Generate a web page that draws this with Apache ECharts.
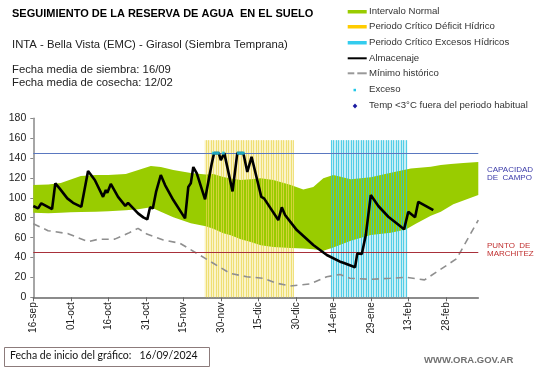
<!DOCTYPE html>
<html><head><meta charset="utf-8">
<script src="https://cdn.jsdelivr.net/npm/echarts@6/dist/echarts.min.js"></script>
<style>html,body{margin:0;padding:0;background:#fff}#c{width:541px;height:368px}</style>
</head><body><div id="c"></div>
<script>
// x values are days since 16-sep-2024
const tickLabels = ['16-sep','01-oct','16-oct','31-oct','15-nov','30-nov','15-dic','30-dic','14-ene','29-ene','13-feb','28-feb'];
const tickDays = [0,15,30,45,60,75,90,105,120,135,150,165];
const xMaxDay = 178;

const bandUpper = [[0,113],[6,113.5],[11,115],[15,118.5],[19,122],[25,123],[30,123],[37,124],[42,128],[47,132],[51,131],[56,128],[63,125],[69,123.6],[72,124],[76,121],[79,119.5],[83,118],[87,118.6],[91,119.6],[96,118],[103,113],[108,108.5],[112,111],[116,119.6],[120,122.9],[127,118.6],[135,120.6],[143,125.2],[151,129.6],[159,131.3],[163,133],[167,134],[172,135],[178,136]];
const bandLower = [[0,85],[6,84.4],[11,85],[15,85.4],[19,85.7],[25,86],[30,86.5],[37,87.5],[42,88.5],[47,90.5],[51,86],[56,80.5],[63,74.4],[69,71.5],[72,69],[76,64.5],[79,62.5],[83,58.3],[87,55.5],[91,52.3],[96,50.5],[103,49.5],[108,49],[112,48.2],[116,46.8],[120,50],[127,56.9],[135,62.6],[143,65],[149,68.3],[153,74],[159,82],[163,86],[168,93.5],[178,102.8]];

const almacenaje = [[0,91.8],[1.9,89.4],[3.2,94.5],[7.5,88.7],[8.8,114.6],[10.5,109.5],[13.6,99.5],[15.9,95],[19.2,91],[21.9,127],[24.6,118],[27.9,101],[29,107.8],[29.6,105],[31,114],[33.9,101],[36.8,92],[37.9,95],[41.9,84.4],[44,80.4],[45.6,78.4],[46.7,90.5],[47.8,89.4],[49.1,106],[51,123],[52.7,112.9],[56,97.8],[60.7,79.4],[62,111],[63,114.6],[64,131],[65.4,124.6],[68.7,98.5],[71.4,134.7],[72.3,145],[74.2,145],[75,138],[76.4,145],[79.7,106.5],[81.6,145],[84,145],[85.6,126],[87.3,141.3],[91.2,101],[92.3,99.5],[93.1,100.5],[98,77.7],[99.4,90.5],[100.7,82.7],[105.4,67.6],[112,52.6],[117.4,42.5],[122.7,35.8],[124,34.8],[128.7,30.2],[129.6,44.2],[131.4,43.5],[133,62.6],[133.8,63.6],[135,102.8],[138,91.8],[142,81],[146.7,71.7],[148.3,68.3],[150,86],[152.7,80.4],[154,96],[160,87.7]];

const minimoHistorico = [[0,74],[5.9,67],[13.9,64],[21.9,56],[25.9,58.3],[32.6,58.5],[37.9,64.3],[41.9,69.3],[45.4,63.6],[52,57.6],[58.7,54.3],[65.4,44.2],[72,34.2],[78.7,24.1],[85.4,20.7],[92,19.1],[97.4,14.1],[102.7,11.4],[110.7,13.4],[117.4,20.7],[122.7,23],[126.7,19.1],[134.7,18.1],[142.7,19.1],[149.3,20.1],[156.5,17.5],[169.3,38.7],[178,77.7]];

const excesoDays = [72,73,74,76,82,83,84];
const excesoValue = 145;
const deficitPeriod = [68.5,104];
const excessPeriod = [119,149.6];
const periodTop = 158;
const capacidadCampo = 145;
const puntoMarchitez = 45;

const FONT = "'Liberation Sans', Arial, sans-serif";

function periodBg(period, fill){
  return function(params, api){
    const a = api.coord([period[0], 0]), b = api.coord([period[1], periodTop]);
    return {type:'rect', shape:{x:a[0], y:b[1], width:b[0]-a[0], height:a[1]-b[1]}, style:{fill:fill}};
  };
}
function periodLines(period, stroke){
  return function(params, api){
    const children = [];
    for (let d = Math.ceil(period[0]); d <= period[1]; d++){
      const a = api.coord([d, 0]), b = api.coord([d, periodTop]);
      const x = Math.round(a[0]) + 0.5;
      children.push({type:'line', shape:{x1:x, y1:a[1], x2:x, y2:b[1]}, style:{stroke:stroke, lineWidth:1}});
    }
    return {type:'group', children:children};
  };
}

const chart = echarts.init(document.getElementById('c'), null, {renderer:'canvas'});
chart.setOption({
  animation:false,
  backgroundColor:'#fff',
  grid:{left:33.3, right:62.7, top:118.3, bottom:70.7, containLabel:false, outerBoundsMode:'none'},
  xAxis:{
    type:'value', min:0, max:xMaxDay,
    splitLine:{show:false},
    axisLine:{lineStyle:{color:'#666', width:1.5}},
    axisTick:{customValues:tickDays, length:4, lineStyle:{color:'#666'}},
    axisLabel:{customValues:tickDays, rotate:90, margin:5, fontSize:10, color:'#222', fontFamily:FONT,
      formatter:function(v){const i = tickDays.indexOf(v); return i>=0 ? tickLabels[i] : '';}}
  },
  yAxis:{
    type:'value', min:0, max:180, interval:20,
    name:'Milímetros', nameLocation:'middle', nameRotate:90, nameGap:25,
    nameTextStyle:{fontSize:7, color:'#222', fontFamily:FONT},
    splitLine:{show:false},
    axisLine:{show:true, lineStyle:{color:'#888', width:1.5}},
    axisTick:{show:true, length:3, lineStyle:{color:'#888'}},
    axisLabel:{fontSize:10.5, color:'#222', margin:7, fontFamily:FONT}
  },
  series:[
    {type:'custom', z:0, silent:true, data:[[0,0]], renderItem:periodBg(deficitPeriod,'#faf3c6')},
    {type:'custom', z:0, silent:true, data:[[0,0]], renderItem:periodBg(excessPeriod,'#c9eef5')},
    {type:'custom', z:1, silent:true, data:[[0,0]], renderItem:function(params, api){
      const pts = bandUpper.map(p=>api.coord(p)).concat(bandLower.slice().reverse().map(p=>api.coord(p)));
      return {type:'polygon', shape:{points:pts}, style:{fill:'#99cc00'}};
    }},
    {type:'custom', z:2, silent:true, data:[[0,0]], renderItem:periodLines(deficitPeriod,'rgba(234,214,80,0.7)')},
    {type:'custom', z:2, silent:true, data:[[0,0]], renderItem:periodLines(excessPeriod,'rgba(40,195,225,0.75)')},
    {type:'line', z:3, data:[], markLine:{silent:true, symbol:'none', label:{show:false},
      data:[{yAxis:capacidadCampo, lineStyle:{color:'#5a78c0', width:1, type:'solid'}},
            {yAxis:puntoMarchitez, lineStyle:{color:'#a8303a', width:1, type:'solid'}}]}},
    {type:'line', z:4, name:'Mínimo histórico', data:minimoHistorico, showSymbol:false,
      lineStyle:{color:'#8f8f8f', width:1.6, type:[7,5]}},
    {type:'line', z:5, name:'Almacenaje', data:almacenaje, showSymbol:false,
      lineStyle:{color:'#000', width:2.6}},
    {type:'scatter', z:6, name:'Exceso', data:excesoDays.map(d=>[d, excesoValue]), symbol:'rect', symbolSize:[3,3],
      itemStyle:{color:'#22c8e8'}}
  ],
  graphic:[
    {type:'text', left:12, top:8.5, style:{text:'SEGUIMIENTO DE LA RESERVA DE AGUA  EN EL SUELO', font:"bold 11px "+FONT, fill:'#000'}},
    {type:'text', left:12, top:39, style:{text:'INTA - Bella Vista (EMC) - Girasol (Siembra Temprana)', font:"11.3px "+FONT, fill:'#222'}},
    {type:'text', left:12, top:64.5, style:{text:'Fecha media de siembra: 16/09', font:"11.3px "+FONT, fill:'#222'}},
    {type:'text', left:12, top:77, style:{text:'Fecha media de cosecha: 12/02', font:"11.3px "+FONT, fill:'#222'}},
    // legend
    {type:'rect', shape:{x:347.7, y:10, width:19, height:3.5}, style:{fill:'#99cc00'}},
    {type:'rect', shape:{x:347.7, y:25, width:19, height:3.5}, style:{fill:'#ffcc00'}},
    {type:'rect', shape:{x:347.7, y:41, width:19, height:3.5}, style:{fill:'#33ccee'}},
    {type:'line', shape:{x1:347.7, y1:58.3, x2:366.7, y2:58.3}, style:{stroke:'#000', lineWidth:2}},
    {type:'line', shape:{x1:347.7, y1:73.3, x2:354.3, y2:73.3}, style:{stroke:'#999', lineWidth:2}},
    {type:'line', shape:{x1:357.3, y1:73.3, x2:366.7, y2:73.3}, style:{stroke:'#999', lineWidth:2}},
    {type:'rect', shape:{x:353.5, y:88.8, width:2.5, height:2.5}, style:{fill:'#22c8e8'}},
    {type:'polygon', shape:{points:[[355,103.5],[357.3,106],[355,108.5],[352.7,106]]}, style:{fill:'#1a1aa0'}},
    {type:'text', left:369, top:6.5, style:{text:'Intervalo Normal', font:"9.6px "+FONT, fill:'#333'}},
    {type:'text', left:369, top:21.5, style:{text:'Periodo Crítico Déficit Hídrico', font:"9.6px "+FONT, fill:'#333'}},
    {type:'text', left:369, top:37.5, style:{text:'Periodo Crítico Excesos Hídricos', font:"9.6px "+FONT, fill:'#333'}},
    {type:'text', left:369, top:53, style:{text:'Almacenaje', font:"9.6px "+FONT, fill:'#333'}},
    {type:'text', left:369, top:68, style:{text:'Mínimo histórico', font:"9.6px "+FONT, fill:'#333'}},
    {type:'text', left:369, top:84.5, style:{text:'Exceso', font:"9.6px "+FONT, fill:'#333'}},
    {type:'text', left:369, top:100.5, style:{text:'Temp <3°C fuera del periodo habitual', font:"9.6px "+FONT, fill:'#333'}},
    // right labels
    {type:'text', left:487, top:165.5, style:{text:'CAPACIDAD\nDE  CAMPO', font:"8px "+FONT, fill:'#3a3aa8', lineHeight:8.5}},
    {type:'text', left:487, top:241.5, style:{text:'PUNTO  DE\nMARCHITEZ', font:"8px "+FONT, fill:'#c03030', lineHeight:8.5}},
    // footer
    {type:'rect', shape:{x:4.5, y:347.5, width:205, height:19}, style:{fill:'none', stroke:'#8c7b7b', lineWidth:1}},
    {type:'text', left:10, top:350.5, style:{text:'Fecha de inicio del gráfico:   16/09/2024', font:"10.5px Lato, "+FONT, fill:'#111'}},
    {type:'text', left:424, top:355, style:{text:'WWW.ORA.GOV.AR', font:"bold 9.5px "+FONT, fill:'#707070'}}
  ]
});
</script>
</body></html>
